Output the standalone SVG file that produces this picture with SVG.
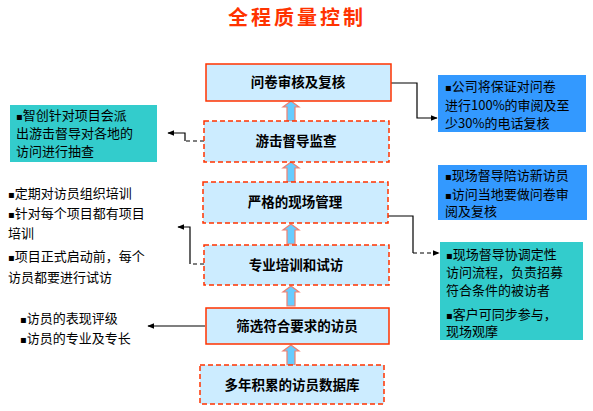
<svg xmlns="http://www.w3.org/2000/svg" width="593" height="411" viewBox="0 0 593 411">
<defs>
<style>
.box{fill:#CCECFF;stroke:#FF3300;stroke-width:1.5}
.dash{stroke-dasharray:5,3}
.bt{font-family:"Noto Sans CJK SC","Liberation Sans",sans-serif;font-size:13.5px;font-weight:bold;fill:#000;text-anchor:middle}
.ct{font-family:"Noto Sans CJK SC","Liberation Sans",sans-serif;font-size:13px;fill:#000}
.b{font-family:"DejaVu Sans",sans-serif;font-size:10px}
.up{fill:#66CCFF;stroke:#F08070;stroke-width:1.2}
.ln{fill:none;stroke:#000;stroke-width:1.2}
.dl{fill:none;stroke:#000;stroke-width:1.2;stroke-dasharray:4,3}
</style>
<marker id="ah" viewBox="0 0 10 10" refX="9" refY="5" markerWidth="7" markerHeight="7" orient="auto" markerUnits="userSpaceOnUse">
<path d="M0,1 L10,5 L0,9 Z" fill="#000"/>
</marker>
<path id="uparrow" d="M-4,20 L-4,6 L-8,6 L0,0 L8,6 L4,6 L4,20 Z"/>
</defs>
<rect width="593" height="411" fill="#fff"/>
<text x="297" y="25" text-anchor="middle" font-family="'Noto Sans CJK SC',sans-serif" font-size="20" font-weight="bold" letter-spacing="3" fill="#FF3300">全程质量控制</text>

<g id="connectors">
<use href="#uparrow" class="up" x="291" y="101"/>
<use href="#uparrow" class="up" x="291" y="162"/>
<use href="#uparrow" class="up" x="291" y="224"/>
<use href="#uparrow" class="up" x="291" y="286"/>
<use href="#uparrow" class="up" x="291" y="345"/>
<polyline class="ln" points="391,83 417,83 417,118 437,118" marker-end="url(#ah)"/>
<polyline class="dl" points="204,141 185,141"/>
<polyline class="ln" points="185,141 185,133 168,133" marker-end="url(#ah)"/>
<polyline class="ln" points="388,216 413,216 413,253"/>
<polyline class="dl" points="413,253 439,253" marker-end="url(#ah)"/>
<polyline class="dl" points="204,264 190,264"/>
<polyline class="ln" points="190,264 190,227 178,227" marker-end="url(#ah)"/>
<polyline class="ln" points="205,326 148,326" marker-end="url(#ah)"/>
</g>

<g id="n1"><rect class="box" x="206" y="64" width="185" height="37"/><text class="bt" x="298" y="87">问卷审核及复核</text></g>
<g id="n2"><rect class="box dash" x="204" y="121" width="185" height="41"/><text class="bt" x="296" y="146">游击督导监查</text></g>
<g id="n3"><rect class="box dash" x="203" y="182" width="185" height="41"/><text class="bt" x="295" y="207">严格的现场管理</text></g>
<g id="n4"><rect class="box dash" x="204" y="245" width="185" height="40"/><text class="bt" x="296" y="270">专业培训和试访</text></g>
<g id="n5"><rect class="box" x="206" y="308" width="183" height="36"/><text class="bt" x="297" y="331">筛选符合要求的访员</text></g>
<g id="n6"><rect class="box dash" x="200" y="365" width="184" height="39"/><text class="bt" x="292" y="390">多年积累的访员数据库</text></g>

<g id="c1"><rect x="10" y="105" width="147" height="57" fill="#33CCCC"/>
<text class="ct"><tspan x="16" y="120"><tspan class="b">▪</tspan>智创针对项目会派</tspan><tspan x="16" y="138">出游击督导对各地的</tspan><tspan x="16" y="156">访问进行抽查</tspan></text></g>

<g id="c2"><rect x="438" y="75" width="148" height="57" fill="#3399FF"/>
<text class="ct"><tspan x="445" y="91"><tspan class="b">▪</tspan>公司将保证对问卷</tspan><tspan x="445" y="110">进行100%的审阅及至</tspan><tspan x="445" y="128">少30%的电话复核</tspan></text></g>

<g id="c3"><rect x="438" y="165" width="149" height="55" fill="#3399FF"/>
<text class="ct"><tspan x="445" y="180"><tspan class="b">▪</tspan>现场督导陪访新访员</tspan><tspan x="445" y="199"><tspan class="b">▪</tspan>访问当地要做问卷审</tspan><tspan x="445" y="216">阅及复核</tspan></text></g>

<g id="c4"><rect x="440" y="242" width="143" height="98" fill="#33CCCC"/>
<text class="ct"><tspan x="446" y="259"><tspan class="b">▪</tspan>现场督导协调定性</tspan><tspan x="446" y="277">访问流程，负责招募</tspan><tspan x="446" y="295">符合条件的被访者</tspan><tspan x="446" y="319"><tspan class="b">▪</tspan>客户可同步参与，</tspan><tspan x="446" y="336">现场观摩</tspan></text></g>

<g id="c5"><text class="ct"><tspan x="8" y="198"><tspan class="b">▪</tspan>定期对访员组织培训</tspan><tspan x="8" y="218"><tspan class="b">▪</tspan>针对每个项目都有项目</tspan><tspan x="8" y="238">培训</tspan><tspan x="8" y="261"><tspan class="b">▪</tspan>项目正式启动前，每个</tspan><tspan x="8" y="282">访员都要进行试访</tspan></text></g>

<g id="c6"><text class="ct"><tspan x="20" y="323"><tspan class="b">▪</tspan>访员的表现评级</tspan><tspan x="20" y="343"><tspan class="b">▪</tspan>访员的专业及专长</tspan></text></g>
</svg>
